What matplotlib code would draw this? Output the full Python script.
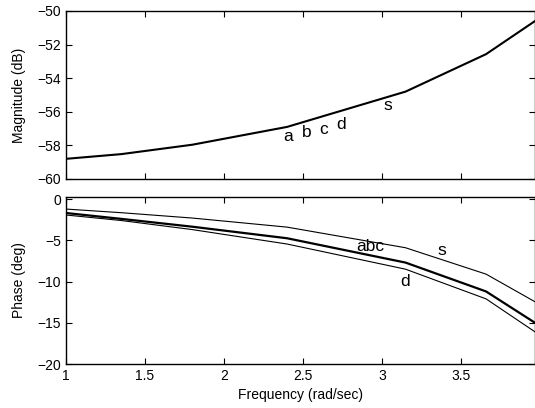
import matplotlib
matplotlib.use('Agg')
import matplotlib.pyplot as plt

plt.rcParams['font.family'] = ['Liberation Sans', 'DejaVu Sans']
plt.rcParams['font.size'] = 10

# frequency grid (rad/sec)
freq = [1.0, 1.35, 1.8, 2.4, 3.15, 3.66, 3.97]

# magnitude (dB) - all models overlap
mag = [-58.8, -58.52, -57.96, -56.9, -54.8, -52.57, -50.6]

# phase (deg)
phase_s = [-1.21, -1.65, -2.3, -3.4, -5.9, -9.1, -12.45]
phase_abc = [-1.69, -2.4, -3.35, -4.75, -7.7, -11.2, -15.0]
phase_d = [-1.93, -2.6, -3.7, -5.45, -8.5, -12.1, -16.1]

# curve labels
mag_labels = ['a', 'b', 'c', 'd', 's']
mag_label_x = [2.405, 2.525, 2.633, 2.74, 3.04]
mag_label_y = [-57.49, -57.25, -57.07, -56.77, -55.63]

phase_labels = ['abc', 's', 'd']
phase_label_x = [2.93, 3.38, 3.15]
phase_label_y = [-5.8, -6.29, -10.0]

fig = plt.figure(figsize=(5.35, 4.08), dpi=100)

# magnitude plot
ax1 = fig.add_axes([0.1234, 0.5613, 0.8766, 0.4118])
ax1.plot(freq, mag, color='black', linewidth=1.5)
for lab, lx, ly in zip(mag_labels, mag_label_x, mag_label_y):
    ax1.text(lx, ly, lab, ha='center', va='center', fontsize=12.5)
ax1.set_xlim(1, 3.97)
ax1.set_ylim(-60, -50)
ax1.set_yticks([-60, -58, -56, -54, -52, -50])
ax1.set_xticks([1, 1.5, 2, 2.5, 3, 3.5])
ax1.set_xticklabels([])
ax1.set_ylabel('Magnitude (dB)')

# phase plot
ax2 = fig.add_axes([0.1234, 0.1078, 0.8766, 0.4093])
ax2.plot(freq, phase_s, color='black', linewidth=0.8)
ax2.plot(freq, phase_abc, color='black', linewidth=1.6)
ax2.plot(freq, phase_d, color='black', linewidth=0.8)
for lab, lx, ly in zip(phase_labels, phase_label_x, phase_label_y):
    ax2.text(lx, ly, lab, ha='center', va='center', fontsize=12.5)
ax2.set_xlim(1, 3.97)
ax2.set_ylim(-20, 0.25)
ax2.set_yticks([-20, -15, -10, -5, 0])
ax2.set_xticks([1, 1.5, 2, 2.5, 3, 3.5])
ax2.set_xticklabels(['1', '1.5', '2', '2.5', '3', '3.5'])
ax2.set_xlabel('Frequency (rad/sec)')
ax2.set_ylabel('Phase (deg)')

for ax in (ax1, ax2):
    ax.tick_params(direction='in', top=True, right=True, length=4, width=0.8)
    ax.yaxis.set_label_coords(-0.085, 0.5)
    for sp in ax.spines.values():
        sp.set_linewidth(1.0)

fig.savefig('out.png', dpi=100)
